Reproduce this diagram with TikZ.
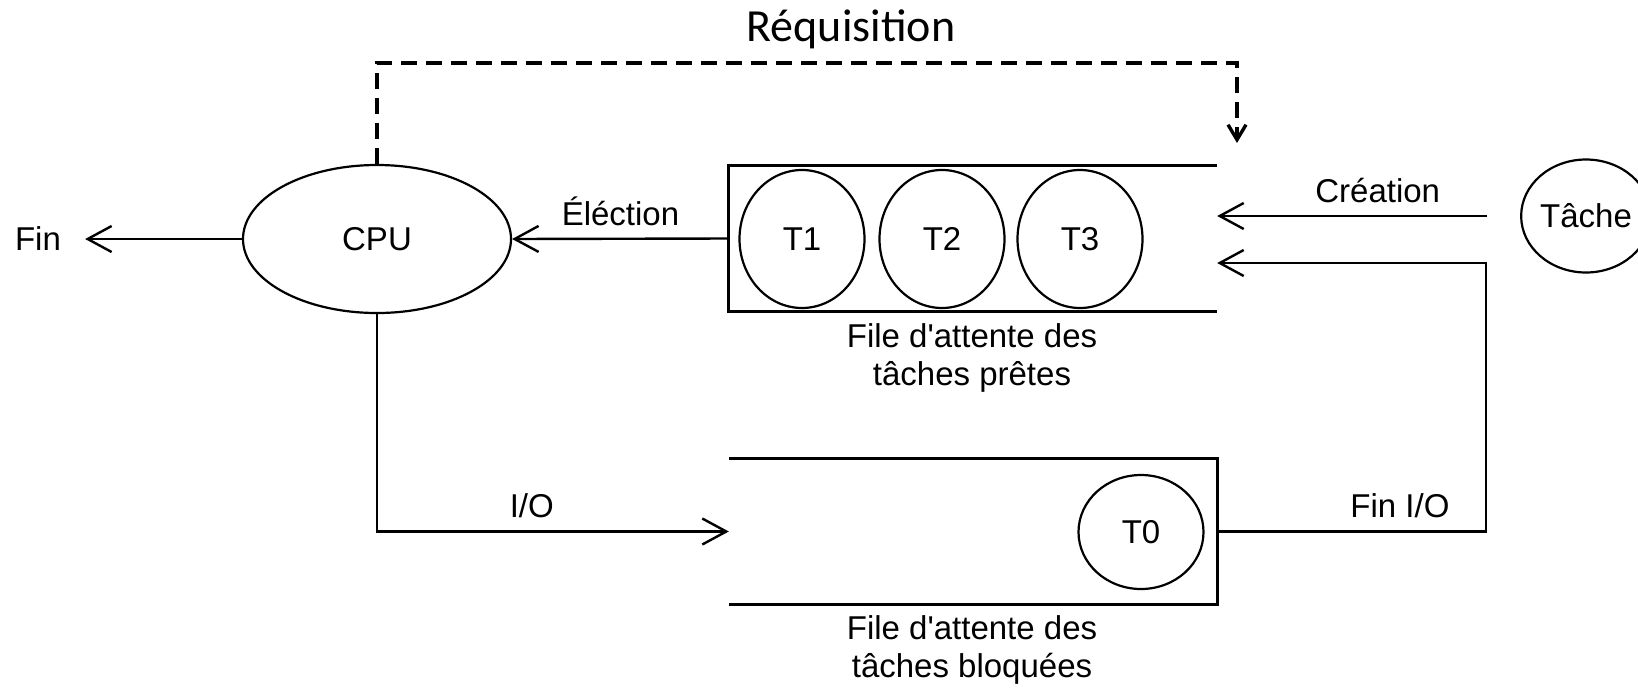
\documentclass[tikz,border=0pt]{standalone}
\usepackage{fontspec}
\setmainfont{Liberation Sans}[Ligatures=TeXOff]
\newfontfamily\titlefont{Carlito}
\usetikzlibrary{arrows.meta,shapes.geometric}

\tikzset{
  lbl/.style={font=\fontsize{33}{38}\selectfont, inner sep=0pt, align=center},
  task/.style={draw, ellipse, line width=2.2pt, inner sep=0pt, font=\fontsize{33}{38}\selectfont},
  queuebox/.style={draw=none, minimum width=488pt, minimum height=145pt, inner sep=0pt},
  queueline/.style={line width=3pt},
  link/.style={line width=2.4pt, -{Straight Barb[length=24pt,width=26pt,line width=2.4pt]}},
  preempt/.style={line width=3.2pt, dash pattern=on 16pt off 9pt,
    -{Straight Barb[length=15pt,width=18pt,line width=3.4pt]}}
}

\begin{document}
\begin{tikzpicture}[x=1pt, y=-1pt]
  \useasboundingbox (0,0) rectangle (1638,689);

  % processor and exit
  \node[task, minimum width=268pt, minimum height=148pt] (cpu) at (377,239) {CPU};
  \node[lbl, inner xsep=24pt] (fin) at (38,239) {Fin};

  % ready queue
  \node[queuebox] (ready) at (973,238.5) {};
  \draw[queueline] (ready.north east) -- (ready.north west) -- (ready.south west) -- (ready.south east);
  \node[task, minimum width=125pt, minimum height=138pt] (t1) at (802,239) {T1};
  \node[task, minimum width=125pt, minimum height=138pt] (t2) at (942,239) {T2};
  \node[task, minimum width=125pt, minimum height=138pt] (t3) at (1080,239) {T3};
  \node[lbl] (readycap) at (972,358) {File d'attente des\\tâches prêtes};

  % blocked queue
  \node[queuebox] (blocked) at (973,531.5) {};
  \draw[queueline] (blocked.north west) -- (blocked.north east) -- (blocked.south east) -- (blocked.south west);
  \node[task, minimum width=125pt, minimum height=114pt] (t0) at (1141,532) {T0};
  \node[lbl] (blockedcap) at (972,650) {File d'attente des\\tâches bloquées};

  % new task
  \node[task, minimum width=120pt, minimum height=113pt] (tache) at (1586,216) {Tâche};

  % corner points of the routed connectors
  \coordinate (reqtop) at (1237,63);
  \coordinate (reqend) at (1237,143);
  \coordinate (fiocorner) at (1486,263);

  % connectors
  \draw[link] (cpu.west) -- (fin.east);
  \draw[link] (ready.west) -- node[lbl, above=12pt] (elec) {Éléction} (cpu.east);
  \draw[link, shorten <=33pt] (tache.west) -- node[lbl, above=12pt, pos=0.47] (crea) {Création} (tache.west -| ready.east);
  \draw[link] (cpu.south) |- node[lbl, pos=0.72, above=12pt] (io) {I/O} (blocked.west);
  \draw[link] (blocked.east) -| node[lbl, pos=0.34, above=12pt] (finio) {Fin I/O} (fiocorner) -- (fiocorner -| ready.east);
  \draw[preempt] (cpu.north) |- (reqtop) -- (reqend);

  \node[inner sep=0pt, font=\titlefont\fontsize{46}{52}\selectfont] (req) at (851,29) {Réquisition};
\end{tikzpicture}
\end{document}
